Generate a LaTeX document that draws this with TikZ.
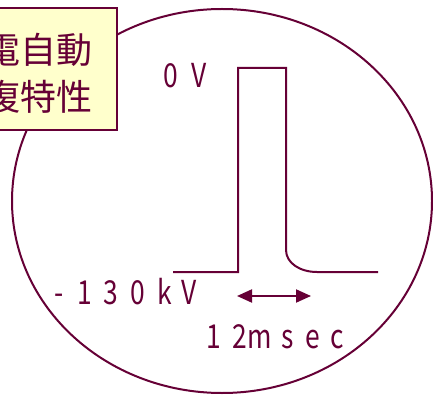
\documentclass[tikz,border=0pt]{standalone}
\usepackage{fontspec}
\usetikzlibrary{arrows.meta}
\newfontfamily\cjk{Noto Sans CJK JP}
\newfontfamily\lab[FakeStretch=0.8]{Noto Sans CJK JP}
\definecolor{maroon}{HTML}{660036}
\definecolor{paleyellow}{HTML}{FFFFCC}
\tikzset{
  wave/.style={draw=maroon, line width=2pt},
  lbl/.style={text=maroon, font=\lab\fontsize{33}{36}\selectfont, inner sep=0pt},
  title/.style={text=maroon, font=\cjk\fontsize{36}{46}\selectfont, inner sep=0pt, anchor=east},
}
\begin{document}
\begin{tikzpicture}[x=1pt,y=-1pt]
\useasboundingbox (0,0) rectangle (433,395);
\clip (0,0) rectangle (433,395);
\fill[white] (0,0) rectangle (433,395);
% ellipse
\draw[wave] (222,201) ellipse [x radius=210, y radius=192];
% waveform
\coordinate (w0) at (173,272);
\coordinate (w1) at (238,68);
\coordinate (w2) at (286,250);
\coordinate (w3) at (317,272);
\coordinate (w4) at (378,272);
\draw[wave, line join=miter] (w0) -| (w1) -| (w2) .. controls (286,263) and (300,272) .. (w3) -- (w4);
% arrow
\coordinate (a0) at (237,296);
\coordinate (a1) at (311,296);
\draw[maroon, line width=2pt, {Triangle[length=15pt,width=13pt]}-{Triangle[length=15pt,width=13pt]}] (a0) -- (a1);
% labels
\node[lbl, anchor=west] (zero) at (163,76) {0\hspace{14pt}V};
\node[lbl, anchor=west] (minus) at (54,292) {-\hspace{14pt}1\hspace{12pt}3\hspace{12pt}0\hspace{12pt}k\hspace{10pt}V};
\node[lbl, anchor=west] (ms) at (206,337) {1\hspace{12pt}2m\hspace{10pt}s\hspace{11pt}e\hspace{11pt}c};
% title box
\draw[draw=maroon, fill=paleyellow, line width=2pt] (-20,8) rectangle (117,130);
\node[title] (t1) at (93,50) {停電自動};
\node[title] (t2) at (93,97) {回復特性};
\end{tikzpicture}
\end{document}
